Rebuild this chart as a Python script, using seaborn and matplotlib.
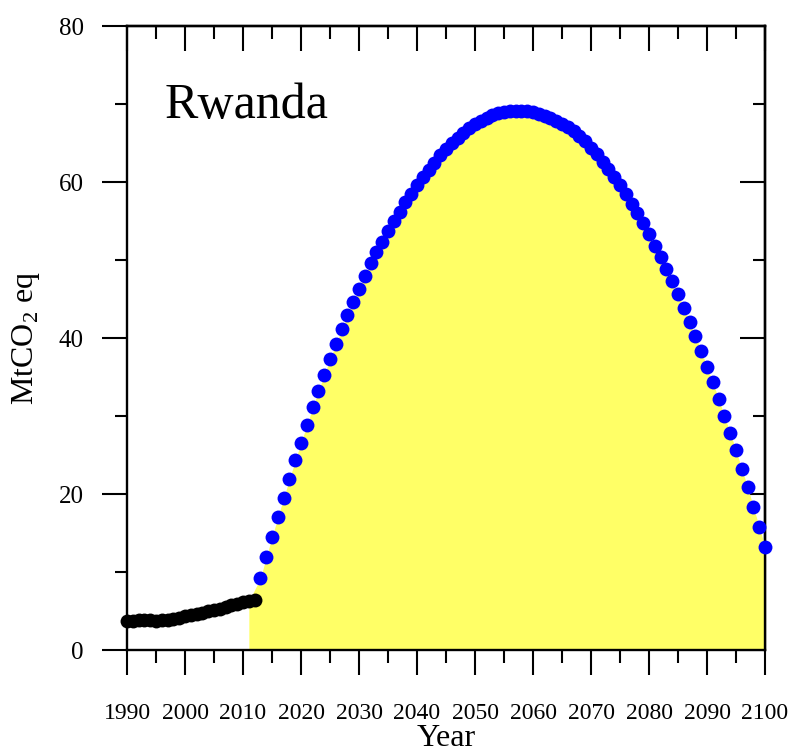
import numpy as np
import pandas as pd
import matplotlib
matplotlib.use("Agg")
import matplotlib.pyplot as plt
import seaborn as sns
from matplotlib.ticker import MultipleLocator

# -----------------------------
# Data
# -----------------------------
hist_years = list(range(1990, 2013))
hist_values = [3.7, 3.75, 3.8, 3.8, 3.8, 3.7, 3.8, 3.9, 4.0, 4.15, 4.3, 4.45,
               4.6, 4.8, 4.95, 5.1, 5.3, 5.5, 5.75, 5.95, 6.1, 6.25, 6.4]

proj_years = list(range(2013, 2101))
proj_values = [
    9.2, 11.9, 14.5, 17.0, 19.5, 21.9, 24.3, 26.6, 28.8, 31.1,      # 2013-2022
    33.2, 35.3, 37.3, 39.2, 41.1, 42.9, 44.6, 46.3, 48.0, 49.6,     # 2023-2032
    51.0, 52.3, 53.7, 55.0, 56.2, 57.4, 58.5, 59.6, 60.6, 61.6,     # 2033-2042
    62.5, 63.4, 64.2, 65.0, 65.6, 66.3, 66.9, 67.4, 67.8, 68.2,     # 2043-2052
    68.55, 68.8, 69.0, 69.1, 69.15, 69.15, 69.1, 68.95, 68.75, 68.5,  # 2053-2062
    68.2, 67.85, 67.45, 67.0, 66.5, 65.95, 65.2, 64.4, 63.6, 62.6,  # 2063-2072
    61.7, 60.6, 59.6, 58.4, 57.2, 56.0, 54.7, 53.3, 51.8, 50.4,     # 2073-2082
    48.9, 47.3, 45.6, 43.9, 42.1, 40.3, 38.3, 36.3, 34.3, 32.2,     # 2083-2092
    30.0, 27.8, 25.6, 23.2, 20.9, 18.3, 15.8, 13.2,                 # 2093-2100
]

country = "Rwanda"
x_ticks = list(range(1990, 2101, 10))
y_ticks = [0, 20, 40, 60, 80]

hist_df = pd.DataFrame({"year": hist_years, "value": hist_values})
proj_df = pd.DataFrame({"year": proj_years, "value": proj_values})

# -----------------------------
# Style
# -----------------------------
sns.set_style("ticks")
plt.rcParams["font.family"] = ["Liberation Serif", "DejaVu Serif"]
plt.rcParams["mathtext.fontset"] = "custom"
plt.rcParams["mathtext.rm"] = "Liberation Serif"
plt.rcParams["text.color"] = "black"
plt.rcParams["axes.labelcolor"] = "black"
plt.rcParams["axes.edgecolor"] = "black"
plt.rcParams["xtick.color"] = "black"
plt.rcParams["ytick.color"] = "black"

fig = plt.figure(figsize=(7.9, 7.56), dpi=100)
ax = fig.add_axes([0.1608, 0.1402, 0.8076, 0.8254])

# yellow area under the projection, starting from the 2011 value
fill_x = [2011] + proj_years
fill_y = [hist_values[hist_years.index(2011)]] + proj_values
ax.fill_between(fill_x, 0, fill_y, color="#FFFF66", linewidth=0, zorder=1)

sns.scatterplot(data=hist_df, x="year", y="value", ax=ax, color="black",
                s=100, linewidth=0, clip_on=False, zorder=5)
sns.scatterplot(data=proj_df, x="year", y="value", ax=ax, color="#0000FF",
                s=100, linewidth=0, clip_on=False, zorder=5)

ax.set_xlim(1990, 2100)
ax.set_ylim(0, 80)
ax.set_xticks(x_ticks)
ax.set_yticks(y_ticks)
ax.xaxis.set_minor_locator(MultipleLocator(5))
ax.yaxis.set_minor_locator(MultipleLocator(10))

for sp in ax.spines.values():
    sp.set_linewidth(1.7)
    sp.set_color("black")
    sp.set_visible(True)

ax.tick_params(axis="both", which="both", direction="out", width=1.5,
               top=False, right=False)
ax.tick_params(axis="both", which="major", length=18)
ax.tick_params(axis="both", which="minor", length=9)
ax.tick_params(axis="x", which="major", labelsize=17, pad=20)
ax.tick_params(axis="y", which="major", labelsize=18, pad=13)

# inward ticks on top and right
top = ax.secondary_xaxis("top")
top.set_xticks(x_ticks)
top.xaxis.set_minor_locator(MultipleLocator(5))
top.tick_params(which="both", direction="in", width=1.5, labeltop=False)
top.tick_params(which="major", length=18)
top.tick_params(which="minor", length=9)
top.spines["top"].set_linewidth(1.7)

right = ax.secondary_yaxis("right")
right.set_yticks(y_ticks)
right.yaxis.set_minor_locator(MultipleLocator(10))
right.tick_params(which="both", direction="in", width=1.5, labelright=False)
right.tick_params(which="major", length=18)
right.tick_params(which="minor", length=9)
right.spines["right"].set_linewidth(1.7)

ax.set_xlabel("Year", fontsize=23, labelpad=0)
ax.set_ylabel(r"MtCO$_2$ eq", fontsize=23, labelpad=12)

ax.text(0.0596, 0.853, country, transform=ax.transAxes, fontsize=36,
        ha="left", va="baseline")

fig.savefig("out.png", dpi=100)
